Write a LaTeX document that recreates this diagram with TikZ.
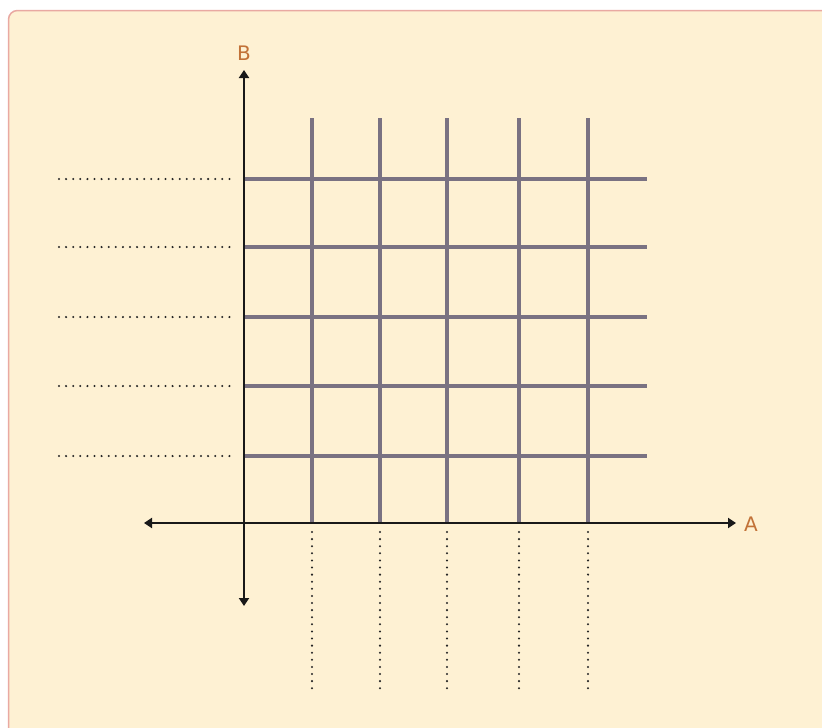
\documentclass[tikz,border=0pt]{standalone}
\usepackage{fontspec}
\setmainfont{DejaVu Sans}
\usetikzlibrary{arrows.meta}
\definecolor{bgfill}{HTML}{FEF1D3}
\definecolor{bgline}{HTML}{E9A9A2}
\definecolor{gridc}{HTML}{7A7282}
\definecolor{labc}{HTML}{C27238}
\tikzset{
  gridline/.style={draw=gridc, line width=4pt},
  axisline/.style={draw=black!90, line width=2.6pt, {Triangle[width=10pt,length=8pt]}-{Triangle[width=10pt,length=8pt]}},
  dotline/.style={draw=black!85, line width=2.3pt, line cap=round, dash pattern=on 0pt off 7.1pt},
  axlabel/.style={text=labc, font=\fontsize{20}{22}\selectfont, inner sep=0pt}
}
\begin{document}
\begin{tikzpicture}[x=1pt,y=-1pt]
\useasboundingbox (0,0) rectangle (822,728);
\fill[white] (0,0) rectangle (822,728);
\draw[bgline, fill=bgfill, line width=1.5pt, rounded corners=9pt] (8.5,10.5) rectangle (840,760);
% grid coordinates
\foreach \x [count=\i] in {312,380,447,519,588}{
  \coordinate (vt\i) at (\x,118);
  \coordinate (vb\i) at (\x,523);
  \coordinate (ds\i) at (\x,532);
  \coordinate (de\i) at (\x,690);
}
\foreach \y [count=\i] in {179,247,317,386,456}{
  \coordinate (hl\i) at (244,\y);
  \coordinate (hr\i) at (647,\y);
  \coordinate (ls\i) at (59,\y);
  \coordinate (le\i) at (233,\y);
}
\foreach \i in {1,...,5}{
  \draw[gridline] (vt\i) -- (vb\i);
  \draw[gridline] (hl\i) -- (hr\i);
  \draw[dotline] (ds\i) -- (de\i);
  \draw[dotline] (ls\i) -- (le\i);
}
% axes
\coordinate (xl) at (144,523);
\coordinate (xr) at (736,523);
\coordinate (yt) at (244,70);
\coordinate (yb) at (244,606);
\draw[axisline] (xl) -- (xr);
\draw[axisline] (yb) -- (yt);
\node[axlabel] (labA) at (751,524) {A};
\node[axlabel] (labB) at (244,53) {B};
\end{tikzpicture}
\end{document}
